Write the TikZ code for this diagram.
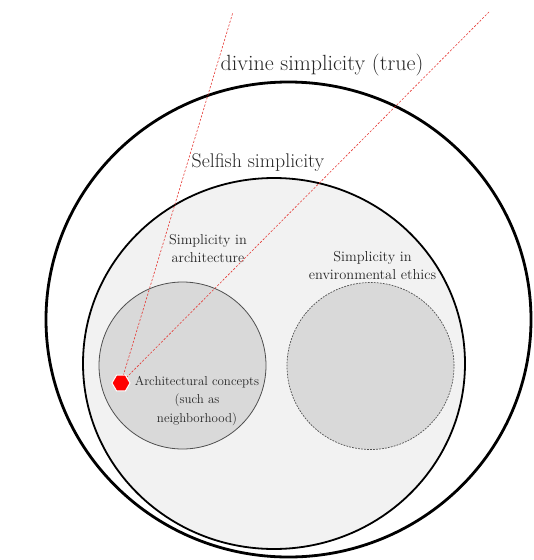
\documentclass[tikz,border=0pt]{standalone}
\usetikzlibrary{shapes.geometric}
\definecolor{txt}{HTML}{262626}
\definecolor{fillA}{HTML}{F2F2F2}
\definecolor{fillB}{HTML}{D9D9D9}
\definecolor{rimB}{HTML}{505050}
\definecolor{redl}{HTML}{E53935}
\begin{document}
\begin{tikzpicture}[x=1pt,y=-1pt,
  ring/.style={ellipse, draw=black, inner sep=0pt},
  sub/.style={circle, fill=fillB, inner sep=0pt, minimum size=167pt},
  lab/.style={text=txt, align=center, inner sep=0pt},
  ray/.style={draw=redl, dashed, dash pattern=on 2.2pt off 1.6pt, line width=0.6pt},
  hexa/.style={regular polygon, regular polygon sides=6, fill=red, draw=white, line width=1pt, minimum size=18pt, inner sep=0pt}]
\useasboundingbox (0,0) rectangle (534,560);
% outer ring
\node[ring, line width=2.8pt, minimum width=485pt, minimum height=475pt] (divine) at (288.5,319.5) {};
% selfish ring
\node[ring, fill=fillA, line width=1.8pt, minimum width=382pt, minimum height=371pt] (selfish) at (274,363.5) {};
% sub circles
\node[sub, draw=rimB, line width=0.8pt] (arch) at (182.5,365.5) {};
\node[sub, draw=rimB, dashed, dash pattern=on 1.8pt off 1.2pt, line width=0.7pt] (env) at (370.5,366) {};
% labels
\node[lab, font=\fontsize{22}{26}\selectfont] (tdiv) at (322,65) {divine simplicity (true)};
\node[lab, font=\fontsize{19.8}{23}\selectfont] (tself) at (258,163) {Selfish simplicity};
\node[lab, font=\fontsize{14.3}{18}\selectfont] (tarch) at (208,249) {Simplicity in\\architecture};
\node[lab, font=\fontsize{14.4}{18}\selectfont] (tenv) at (372.5,265) {Simplicity in\\environmental ethics};
% rays
\coordinate (hc) at (121,383);
\coordinate (r1) at (233,12);
\coordinate (r2) at (489,12);
\draw[ray] (hc) -- (r1);
\draw[ray] (hc) -- (r2);
\node[hexa] (hex) at (hc) {};
\node[lab, font=\fontsize{12.9}{18.2}\selectfont] (tcon) at (197,401) {Architectural concepts\\(such as\\neighborhood)};
\end{tikzpicture}
\end{document}
